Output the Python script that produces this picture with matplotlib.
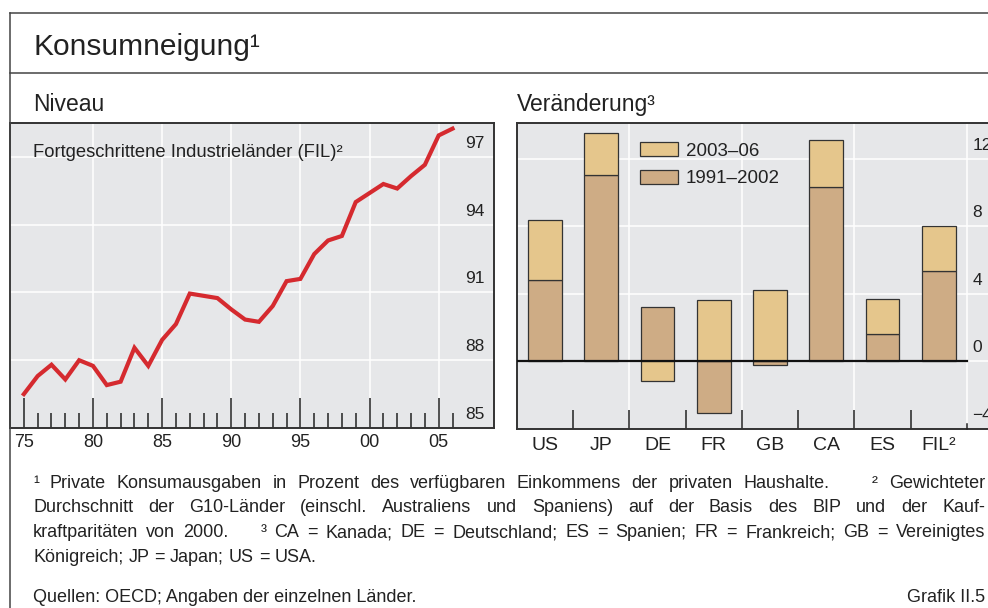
import matplotlib
matplotlib.use("Agg")
import matplotlib.pyplot as plt
import matplotlib.transforms as mtransforms
from matplotlib.lines import Line2D
from matplotlib.patches import Patch
from matplotlib import font_manager

# --- data ---
years = list(range(1975, 2007))
konsum_fil = [86.5, 87.3, 87.8, 87.15, 88.0, 87.75, 86.9, 87.05, 88.55, 87.75,
              88.9, 89.6, 90.95, 90.85, 90.75, 90.25, 89.8, 89.7, 90.4, 91.5,
              91.6, 92.7, 93.3, 93.5, 95.0, 95.4, 95.8, 95.6, 96.15, 96.65,
              97.95, 98.25]
left_yticks = [85, 88, 91, 94, 97]

countries = ["US", "JP", "DE", "FR", "GB", "CA", "ES", "FIL²"]
chg_1991_2002 = [4.8, 11.0, 3.2, -3.05, -0.2, 10.3, 1.6, 5.35]
chg_2003_06 = [3.55, 2.5, -1.15, 3.65, 4.2, 2.8, 2.1, 2.65]
right_yticks = [-4, 0, 4, 8, 12]

footnotes = [
    ("¹ Private Konsumausgaben in Prozent des verfügbaren Einkommens der privaten Haushalte.    ² Gewichteter", True),
    ("Durchschnitt der G10-Länder (einschl. Australiens und Spaniens) auf der Basis des BIP und der Kauf-", True),
    ("kraftparitäten von 2000.    ³ CA = Kanada; DE = Deutschland; ES = Spanien; FR = Frankreich; GB = Vereinigtes", True),
    ("Königreich; JP = Japan; US = USA.", False),
]
source = "Quellen: OECD; Angaben der einzelnen Länder."
graf_id = "Grafik II.5"

# --- style ---
plt.rcParams['font.family'] = ['Liberation Sans', 'DejaVu Sans']
BG = '#E6E7E9'
RED = '#D52A2F'
TAN = '#E5C68C'
BROWN = '#CEAC85'
EDGE = '#333333'
W, H = 988, 608

fig = plt.figure(figsize=(W / 100, H / 100), dpi=100)


def px(x, y):
    return x / W, 1 - y / H


# outer frame lines
fig.add_artist(Line2D([10 / W, 10 / W], [0, 1 - 13 / H], color='#444444', lw=1.1))
fig.add_artist(Line2D([10 / W, 1], [1 - 13 / H, 1 - 13 / H], color='#444444', lw=1.1))
fig.add_artist(Line2D([10 / W, 1], [1 - 73 / H, 1 - 73 / H], color='#444444', lw=1.1))

fig.text(*px(33, 55), "Konsumneigung¹", fontsize=21.5, color='#222222', va='baseline')
fig.text(*px(33, 111), "Niveau", fontsize=16.5, color='#222222', va='baseline')
fig.text(*px(517, 111), "Veränderung³", fontsize=16.5, color='#222222', va='baseline')

# ---------------- left panel: Niveau ----------------
ax1 = fig.add_axes([10 / W, 1 - 428 / H, 484 / W, 305 / H])
ax1.set_facecolor(BG)
ax1.set_xlim(1974, 2009)
ax1.set_ylim(85, 98.5)
for v in left_yticks[1:]:
    ax1.axhline(v, color='white', lw=1.1, zorder=0.5)
for yr in range(1980, 2006, 5):
    ax1.axvline(yr, color='white', lw=1.1, zorder=0.5)
ax1.plot(years, konsum_fil, color=RED, lw=3, solid_joinstyle='miter', zorder=3)

ax1.set_xticks(list(range(1975, 2006, 5)))
ax1.set_xticklabels([f"{y % 100:02d}" for y in range(1975, 2006, 5)])
ax1.set_xticks([y for y in range(1976, 2007) if y % 5 != 0], minor=True)
ax1.tick_params(axis='x', which='major', direction='in', length=21.6, width=1.1,
                color='#222222', labelsize=13, pad=4, labelcolor='#222222')
ax1.tick_params(axis='x', which='minor', direction='in', length=10.8, width=1.1,
                color='#222222')
ax1.set_yticks([])
for s in ax1.spines.values():
    s.set_color(EDGE)
    s.set_linewidth(1.4)

off1 = mtransforms.offset_copy(ax1.transData, fig=fig, y=9, units='dots')
for v in left_yticks:
    ax1.text(2008.3, v, f"{v}", transform=off1, ha='right', va='baseline',
             fontsize=12.5, color='#222222')
ax1.text(23 / 484, 1 - (156.7 - 123) / 305, "Fortgeschrittene Industrieländer (FIL)²",
         transform=ax1.transAxes, fontsize=13.2, color='#222222', va='baseline')

# ---------------- right panel: Veränderung ----------------
ax2 = fig.add_axes([517 / W, 1 - 429 / H, 483 / W, 306 / H])
ax2.set_facecolor(BG)
ax2.set_xlim(-0.5, 8.09)
ax2.set_ylim(-4, 14.1)
for v in right_yticks[1:]:
    ax2.axhline(v, color='white', lw=1.1, zorder=0.5)
for xv in [1.5, 3.5, 5.5, 7.5]:
    ax2.axvline(xv, color='white', lw=1.1, zorder=0.5)

xs = list(range(len(countries)))
tan_bottom = [b if b * t > 0 else 0 for b, t in zip(chg_1991_2002, chg_2003_06)]
ax2.bar(xs, chg_1991_2002, width=0.6, color=BROWN, edgecolor=EDGE, lw=0.9,
        zorder=2, label='1991–2002')
ax2.bar(xs, chg_2003_06, bottom=tan_bottom, width=0.6, color=TAN, edgecolor=EDGE,
        lw=0.9, zorder=2, label='2003–06')
ax2.plot([-0.5, 7.5], [0, 0], color='#111111', lw=1.6, zorder=3)

ax2.set_xticks(xs)
ax2.set_xticklabels(countries)
ax2.set_xticks([i + 0.5 for i in range(7)], minor=True)
ax2.tick_params(axis='x', which='major', length=0, labelsize=14, pad=6,
                labelcolor='#222222')
ax2.tick_params(axis='x', which='minor', direction='in', length=13.7, width=1.1,
                color='#222222')
ax2.plot([7.5, 7.5], [-4, -3.7], color='#222222', lw=1.1, zorder=3, clip_on=False)
ax2.set_yticks([])
for s in ax2.spines.values():
    s.set_color(EDGE)
    s.set_linewidth(1.4)

off2 = mtransforms.offset_copy(ax2.transData, fig=fig, y=9, units='dots')
for v in right_yticks:
    lab = f"{v}".replace('-', '−')
    ax2.text(7.6, v, lab, transform=off2, ha='left', va='baseline',
             fontsize=12.5, color='#222222')

handles = [Patch(facecolor=TAN, edgecolor=EDGE, lw=0.9, label='2003–06'),
           Patch(facecolor=BROWN, edgecolor=EDGE, lw=0.9, label='1991–2002')]
ax2.legend(handles=handles, loc='upper left', bbox_to_anchor=(0.255, 0.937),
           frameon=False, fontsize=13.5, handlelength=2.0, handleheight=0.75,
           handletextpad=0.45, labelspacing=0.55, borderpad=0, borderaxespad=0,
           labelcolor='#222222')

# ---------------- footnotes (justified) ----------------
names = {f.name for f in font_manager.fontManager.ttflist}
fn_family = ['Liberation Sans Narrow'] if 'Liberation Sans Narrow' in names else ['Liberation Sans']
fn_size = 13.0
renderer = fig.canvas.get_renderer()
X0, X1 = 33, 985


def text_w(s, size):
    t = fig.text(0, 0, s, fontsize=size, family=fn_family)
    w = t.get_window_extent(renderer).width
    t.remove()
    return w


# shrink the font until every justified line fits
while max(text_w(line, fn_size) for line, j in footnotes if j) > (X1 - X0) - 6:
    fn_size -= 0.1

space_w = text_w("a a", fn_size) - text_w("aa", fn_size)
baselines = [488, 512.5, 537, 561.5]
for (line, justify), yb in zip(footnotes, baselines):
    words, gaps, gap = [], [], 0
    for p in line.split(' '):
        if p == '':
            gap += 1
            continue
        if words:
            gaps.append(gap + 1)
        words.append(p)
        gap = 0
    widths = [text_w(wd, fn_size) for wd in words]
    if justify:
        unit = ((X1 - X0) - sum(widths)) / sum(gaps)
    else:
        unit = space_w
    x = X0
    for i, wd in enumerate(words):
        fig.text(*px(x, yb), wd, fontsize=fn_size, family=fn_family,
                 va='baseline', color='#222222')
        x += widths[i]
        if i < len(gaps):
            x += unit * gaps[i]

fig.text(*px(X0, 602), source, fontsize=fn_size, family=fn_family,
         va='baseline', color='#222222')
fig.text(*px(X1, 602), graf_id, fontsize=fn_size, family=fn_family,
         va='baseline', ha='right', color='#222222')

fig.savefig("out.png", dpi=100)
